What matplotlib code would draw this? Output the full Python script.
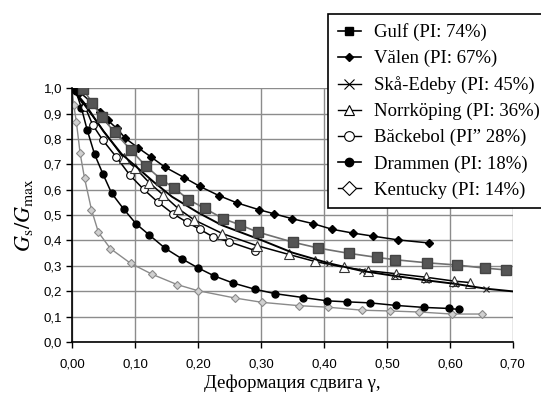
import matplotlib
matplotlib.use("Agg")
import matplotlib.pyplot as plt
from matplotlib.lines import Line2D
from matplotlib.ticker import FuncFormatter

plt.rcParams['font.family'] = 'Liberation Sans'
plt.rcParams['mathtext.fontset'] = 'stix'

# данные
gulf_x = [0.018, 0.032, 0.047, 0.068, 0.093, 0.117, 0.142, 0.162, 0.185, 0.211, 0.24, 0.267,
          0.295, 0.351, 0.391, 0.44, 0.485, 0.513, 0.563, 0.612, 0.655, 0.689]
gulf_y = [0.995, 0.943, 0.887, 0.826, 0.758, 0.694, 0.64, 0.607, 0.561, 0.526, 0.486, 0.461,
          0.433, 0.393, 0.37, 0.349, 0.333, 0.324, 0.312, 0.303, 0.291, 0.284]

valen_x = [0.0, 0.012, 0.03, 0.045, 0.057, 0.071, 0.085, 0.105, 0.125, 0.147, 0.178, 0.203,
           0.233, 0.262, 0.297, 0.321, 0.349, 0.383, 0.413, 0.446, 0.478, 0.518, 0.567]
valen_y = [1.0, 0.985, 0.946, 0.905, 0.873, 0.842, 0.802, 0.765, 0.73, 0.69, 0.648, 0.613,
           0.577, 0.548, 0.521, 0.505, 0.486, 0.466, 0.444, 0.429, 0.417, 0.402, 0.39]

ska_x = [0.0, 0.02, 0.05, 0.079, 0.1, 0.13, 0.159, 0.2, 0.238, 0.3, 0.35, 0.408, 0.46,
         0.513, 0.562, 0.608, 0.657, 0.705]
ska_y = [1.0, 0.94, 0.83, 0.74, 0.695, 0.63, 0.572, 0.51, 0.46, 0.402, 0.352, 0.31, 0.28,
         0.26, 0.243, 0.229, 0.21, 0.198]

norr_x = [0.0, 0.082, 0.1, 0.123, 0.145, 0.169, 0.194, 0.239, 0.293, 0.344, 0.386, 0.432,
          0.47, 0.514, 0.562, 0.606, 0.632]
norr_y = [1.0, 0.725, 0.687, 0.627, 0.579, 0.525, 0.481, 0.427, 0.38, 0.345, 0.317, 0.294,
          0.281, 0.269, 0.255, 0.24, 0.234]

backe_x = [0.0, 0.021, 0.033, 0.049, 0.07, 0.092, 0.114, 0.136, 0.16, 0.183, 0.203, 0.224,
           0.249, 0.291]
backe_y = [1.0, 0.925, 0.855, 0.795, 0.73, 0.657, 0.601, 0.552, 0.506, 0.471, 0.444, 0.414,
           0.395, 0.36]

dram_x = [0.0, 0.006, 0.015, 0.024, 0.036, 0.049, 0.063, 0.082, 0.102, 0.123, 0.148, 0.175,
          0.2, 0.226, 0.256, 0.29, 0.323, 0.367, 0.405, 0.437, 0.473, 0.514, 0.559, 0.598, 0.615]
dram_y = [1.0, 0.99, 0.922, 0.837, 0.739, 0.663, 0.586, 0.524, 0.465, 0.421, 0.369, 0.327,
          0.292, 0.26, 0.232, 0.208, 0.19, 0.175, 0.162, 0.158, 0.154, 0.144, 0.136, 0.132, 0.128]

kent_x = [0.0, 0.003, 0.007, 0.013, 0.02, 0.031, 0.042, 0.061, 0.093, 0.127, 0.167, 0.2,
          0.259, 0.302, 0.36, 0.406, 0.461, 0.505, 0.551, 0.603, 0.651]
kent_y = [1.0, 0.932, 0.867, 0.743, 0.645, 0.521, 0.432, 0.368, 0.31, 0.267, 0.226, 0.202,
          0.173, 0.156, 0.143, 0.137, 0.125, 0.122, 0.118, 0.11, 0.11]

labels = ['Gulf (PI: 74%)', 'Vălen (PI: 67%)', 'Skå-Edeby (PI: 45%)', 'Norrköping (PI: 36%)',
          'Băckebol (PI” 28%)', 'Drammen (PI: 18%)', 'Kentucky (PI: 14%)']

fig = plt.figure(figsize=(5.41, 3.99), dpi=100)
ax = fig.add_axes([0.133, 0.143, 0.815, 0.636])

lw = 1.1
ax.plot(kent_x, kent_y, color='#8a8a8a', lw=1.0, marker='D', ms=4, mfc='#d0d0d0', mec='#8a8a8a', mew=0.8)
ax.plot(dram_x, dram_y, color='black', lw=lw, marker='o', ms=5, mfc='black', mec='black')
ax.plot(backe_x, backe_y, color='black', lw=lw, marker='o', ms=5.5, mfc='white', mec='black', mew=0.8)
ax.plot(norr_x, norr_y, color='black', lw=lw, marker='^', ms=6.5, mfc='white', mec='#333333', mew=0.8,
        markevery=list(range(1, len(norr_x))))
ax.plot(ska_x, ska_y, color='black', lw=1.4, marker='x', ms=5, mec='#222222', mew=0.8,
        markevery=list(range(11, len(ska_x) - 1)))
ax.plot(valen_x, valen_y, color='black', lw=lw, marker='D', ms=4, mfc='black', mec='black')
ax.plot(gulf_x, gulf_y, color='#707070', lw=1.2, marker='s', ms=6.5, mfc='#555555', mec='#444444')

ax.set_xlim(0, 0.70)
ax.set_ylim(0, 1.0)
ax.set_xticks([i / 10 for i in range(8)])
ax.set_yticks([i / 10 for i in range(11)])
ax.xaxis.set_major_formatter(FuncFormatter(lambda v, p: f'{v:.2f}'.replace('.', ',')))
ax.yaxis.set_major_formatter(FuncFormatter(lambda v, p: f'{v:.1f}'.replace('.', ',')))
ax.tick_params(direction='out', length=4, width=1, labelsize=9.5, colors='black', pad=3)
ax.tick_params(axis='x', pad=8)
ax.grid(True, color='#8c8c8c', linewidth=1.0)
ax.set_axisbelow(True)
for s in ['top', 'right']:
    ax.spines[s].set_visible(False)
for s in ['left', 'bottom']:
    ax.spines[s].set_linewidth(1.2)

ax.set_ylabel(r'$G_\mathrm{s}/G_\mathrm{max}$', fontsize=16, labelpad=6)
ax.set_xlabel('Деформация сдвига γ,', family='Liberation Serif', fontsize=13.5, labelpad=3)

handles = [
    Line2D([], [], color='black', lw=1.2, marker='s', ms=6, mfc='black', mec='black'),
    Line2D([], [], color='black', lw=1.2, marker='D', ms=4.5, mfc='black', mec='black'),
    Line2D([], [], color='black', lw=1.0, marker='x', ms=7, mec='black', mew=0.8),
    Line2D([], [], color='black', lw=1.0, marker='^', ms=7, mfc='white', mec='black', mew=0.8),
    Line2D([], [], color='black', lw=1.0, marker='o', ms=7, mfc='white', mec='black', mew=0.8),
    Line2D([], [], color='black', lw=1.2, marker='o', ms=6, mfc='black', mec='black'),
    Line2D([], [], color='black', lw=1.0, marker='D', ms=7, mfc='white', mec='black', mew=0.8),
]
leg = fig.legend(handles, labels, loc='upper left', bbox_to_anchor=(0.607, 0.965),
                 borderaxespad=0, prop={'family': 'Liberation Serif', 'size': 13.5},
                 fancybox=False, edgecolor='black', framealpha=1, handlelength=1.25,
                 handletextpad=0.7, labelspacing=0.47, borderpad=0.5)
leg.get_frame().set_linewidth(1.2)

fig.savefig('out.png', dpi=100)
